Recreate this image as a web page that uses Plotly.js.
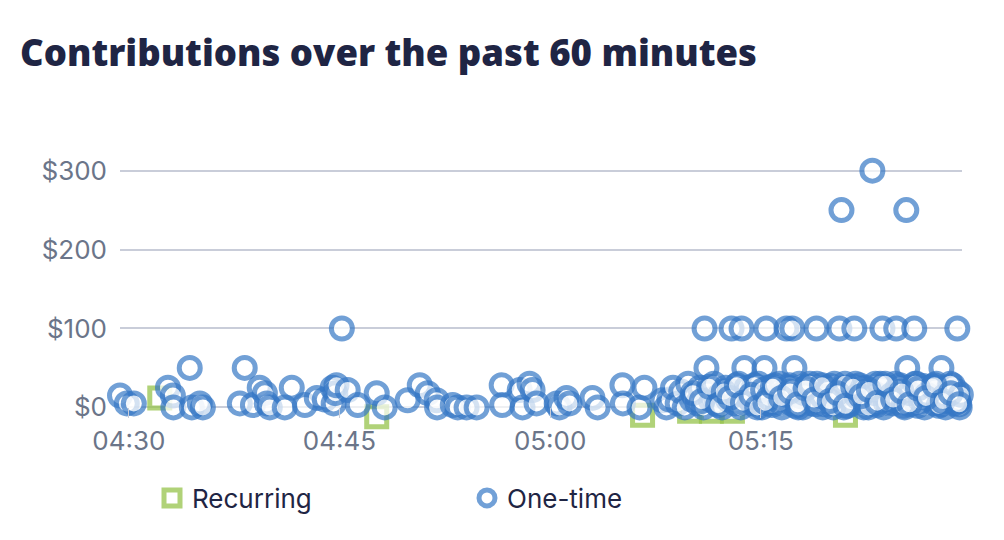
<!DOCTYPE html>
<html>
<head>
<meta charset="utf-8">
<script src="https://cdn.plot.ly/plotly-3.0.1.min.js"></script>
<style>html,body{margin:0;padding:0;background:#fff;}#chart{width:1004px;height:540px;}</style>
</head>
<body>
<div id="chart"></div>
<script>
const DAY = '2024-01-01 ';

const recurringTimes = ['04:32:12','04:47:39','05:06:35','05:09:56','05:11:29','05:12:59','05:21:02'];
const recurringValues = [12, -12, -10, -5, -5, -5, -10];

const oneTimeTimes = [
  '04:29:22','04:29:51','04:30:21','04:32:47','04:33:08','04:33:10','04:34:20','04:34:29','04:35:03','04:35:16',
  '04:37:54','04:38:15','04:38:50','04:39:19','04:39:41','04:39:49','04:40:02','04:41:06','04:41:36','04:42:32',
  '04:43:23','04:43:57','04:44:31','04:44:35','04:44:42','04:44:47','04:45:10','04:45:35','04:46:18','04:47:39',
  '04:48:13','04:49:51','04:50:43','04:51:17','04:51:55','04:51:57','04:53:04','04:53:25','04:54:03','04:54:46',
  '04:56:33','04:56:35','04:57:50','04:58:02','04:58:32','04:58:45','04:59:02','05:00:28','05:00:40','05:01:10',
  '05:01:23','05:03:01','05:03:23','05:05:09','05:05:11','05:06:22','05:06:43','05:08:00','05:08:17',
  '05:11:00','05:12:55','05:13:38','05:15:24','05:16:50','05:17:15','05:18:58','05:20:36','05:21:40','05:23:40',
  '05:24:39','05:25:56','05:29:00',
  '05:11:08','05:13:50','05:15:16','05:17:24','05:25:26','05:27:52',
  '05:20:45','05:22:57','05:25:22',
  '05:08:30','05:08:45','05:09:05','05:09:20','05:09:35','05:09:50','05:10:05','05:10:15','05:10:30','05:10:40',
  '05:10:55','05:11:15','05:11:25','05:11:40','05:11:50','05:12:05','05:12:15','05:12:30','05:12:40','05:13:00',
  '05:13:10','05:13:25','05:13:35','05:13:52','05:14:00','05:14:15','05:14:25','05:14:40','05:14:50','05:15:05',
  '05:15:15','05:15:30','05:15:40','05:15:55','05:16:05','05:16:20','05:16:30','05:16:45','05:16:55','05:17:10',
  '05:17:20','05:17:35','05:17:45','05:18:00','05:18:10','05:18:25','05:18:35','05:18:50','05:19:00','05:19:15',
  '05:19:25','05:19:40','05:19:50','05:20:05','05:20:15','05:20:30','05:20:40','05:20:55','05:21:05','05:21:20',
  '05:21:30','05:21:45','05:21:55','05:22:05','05:22:20','05:22:30','05:22:45','05:22:55','05:23:10','05:23:20',
  '05:23:35','05:23:45','05:24:00','05:24:10','05:24:25','05:24:35','05:24:50','05:25:00','05:25:15','05:25:25',
  '05:25:40','05:25:50','05:26:05','05:26:15','05:26:30','05:26:40','05:26:55','05:27:05','05:27:20','05:27:30',
  '05:27:45','05:27:55','05:28:10','05:28:20','05:28:35','05:28:45','05:29:00','05:29:10',
  '05:14:08','05:14:33','05:15:00','05:15:48','05:16:12','05:16:38','05:17:02','05:17:28','05:17:52','05:18:18',
  '05:18:42','05:19:08','05:19:33','05:19:58','05:20:22','05:20:48','05:21:12','05:21:38','05:22:02','05:22:25',
  '05:22:50','05:23:15','05:23:40','05:24:05','05:24:30','05:24:55','05:25:20','05:25:45','05:26:10','05:26:35',
  '05:27:00','05:27:25','05:27:50','05:28:15','05:28:40','05:29:05',
  '05:10:10','05:10:48','05:11:20','05:11:58','05:12:22','05:12:48','05:13:18','05:13:44','05:14:20','05:14:45',
  '05:15:10','05:15:35','05:16:00','05:16:25','05:16:50','05:17:15','05:17:40','05:18:05','05:18:30','05:18:55',
  '05:19:20','05:19:45','05:20:10','05:20:35','05:21:00','05:21:25','05:21:50','05:22:15','05:22:40','05:23:05',
  '05:23:30','05:23:55','05:24:20','05:24:45','05:25:10','05:25:35','05:26:00','05:26:25','05:26:50','05:27:15',
  '05:27:40','05:28:05','05:28:30','05:28:55','05:29:15',
  '05:15:20','05:15:52','05:16:28','05:17:05','05:17:38','05:18:12','05:18:48','05:19:22','05:19:55','05:20:28',
  '05:21:02','05:21:35','05:22:08','05:22:42','05:23:18','05:23:52','05:24:26','05:25:02','05:25:36','05:26:12',
  '05:26:46','05:27:22','05:27:58','05:28:32','05:29:08'
];
const oneTimeValues = [
  15, 5, 5, 25, 15, 0, 50, 0, 5, 0,
  5, 50, 3, 25, 18, 5, 0, 0, 25, 3,
  12, 10, 25, 5, 18, 28, 100, 22, 3, 18,
  0, 9, 28, 18, 9, 0, 3, 0, 0, 0,
  28, 3, 22, 0, 30, 22, 5, 5, 0, 12,
  5, 12, 0, 28, 5, 0, 25, 9, 0,
  100, 100, 100, 100, 100, 100, 100, 100, 100, 100,
  100, 100, 100,
  50, 50, 50, 50, 50, 50,
  250, 300, 250,
  10, 25, 5, 20, 0, 30, 10, 15, 5, 25,
  0, 20, 10, 30, 5, 15, 0, 25, 10, 20,
  5, 30, 0, 15, 25, 10, 5, 20, 30, 0,
  15, 25, 5, 20, 10, 30, 0, 15, 25, 5,
  20, 10, 30, 0, 25, 15, 5, 20, 30, 10,
  0, 25, 15, 5, 30, 20, 10, 0, 25, 15,
  5, 30, 20, 10, 0, 25, 15, 5, 30, 20,
  10, 0, 25, 15, 5, 30, 20, 10, 0, 25,
  15, 5, 30, 20, 10, 0, 25, 15, 5, 30,
  20, 10, 0, 25, 15, 5, 20, 0,
  12, 28, 8, 3, 22, 18, 28, 2, 14, 26,
  9, 20, 4, 27, 12, 24, 2, 18, 28, 7,
  22, 3, 26, 11, 19, 28, 6, 23, 2, 27,
  12, 24, 4, 20, 28, 8,
  18, 8, 26, 3, 20, 12, 28, 6, 16, 0,
  22, 12, 28, 6, 16, 24, 0, 18, 30, 4,
  14, 22, 0, 16, 30, 8, 14, 24, 0, 18,
  30, 6, 16, 24, 2, 18, 30, 8, 16, 26,
  2, 14, 30, 6, 16,
  6, 26, 12, 20, 4, 24, 10, 28, 8, 18,
  2, 26, 14, 22, 6, 30, 10, 20, 4, 24,
  12, 28, 8, 18, 4
];

const xRange = [DAY + '04:29:22', DAY + '05:29:20'];
const yRange = [-16, 330];
const yTickPrefix = '$';

const recurring = {
  type: 'scatter', mode: 'markers', name: 'Recurring',
  x: recurringTimes.map(t => DAY + t), y: recurringValues,
  cliponaxis: false, hoverinfo: 'skip',
  marker: { symbol: 'square', size: 20, color: '#ffffff', opacity: 0.75,
            line: { color: 'rgb(150,195,75)', width: 5 } }
};
const oneTime = {
  type: 'scatter', mode: 'markers', name: 'One-time',
  x: oneTimeTimes.map(t => DAY + t), y: oneTimeValues,
  cliponaxis: false, hoverinfo: 'skip',
  marker: { symbol: 'circle', size: 21, color: '#ffffff', opacity: 0.7,
            line: { color: 'rgb(54,120,198)', width: 5 } }
};

const tickFont = { family: 'Inter, "Noto Sans", sans-serif', size: 26, color: '#6b7589' };

const layout = {
  width: 1004, height: 540,
  margin: { l: 120, r: 42, t: 147, b: 120, pad: 0 },
  paper_bgcolor: '#ffffff', plot_bgcolor: '#ffffff',
  title: {
    text: 'Contributions over the past 60 minutes',
    x: 20 / 1004, xanchor: 'left', xref: 'container',
    y: 1 - 53 / 540, yanchor: 'middle', yref: 'container',
    font: { family: '"Open Sans", sans-serif', size: 36.5, weight: 800, color: '#1f2544' }
  },
  xaxis: {
    type: 'date', range: xRange, tickformat: '%H:%M',
    tick0: DAY + '04:30:00', dtick: 15 * 60 * 1000,
    anchor: 'free', position: 16 / 346,
    showgrid: false, zeroline: false, showline: false,
    ticks: 'outside', ticklen: 10, tickwidth: 1, tickcolor: '#c9cdd9',
    tickfont: tickFont, fixedrange: true
  },
  yaxis: {
    range: yRange, dtick: 100, tick0: 0, tickprefix: yTickPrefix,
    showgrid: true, gridcolor: '#c9cdd9', gridwidth: 2,
    zeroline: true, zerolinecolor: '#c9cdd9', zerolinewidth: 2,
    showline: false, ticks: '', ticklabelstandoff: 12,
    tickfont: tickFont, fixedrange: true
  },
  showlegend: true,
  legend: {
    orientation: 'h', xref: 'container', yref: 'container',
    x: 152 / 1004, xanchor: 'left', y: 1 - 498 / 540, yanchor: 'middle',
    entrywidth: 270, entrywidthmode: 'pixels',
    font: { family: 'Inter, "Noto Sans", sans-serif', size: 26, color: '#1f2544' },
    bgcolor: 'rgba(0,0,0,0)', borderwidth: 0
  }
};

Plotly.newPlot('chart', [recurring, oneTime], layout, { staticPlot: true, displayModeBar: false });
</script>
</body>
</html>
